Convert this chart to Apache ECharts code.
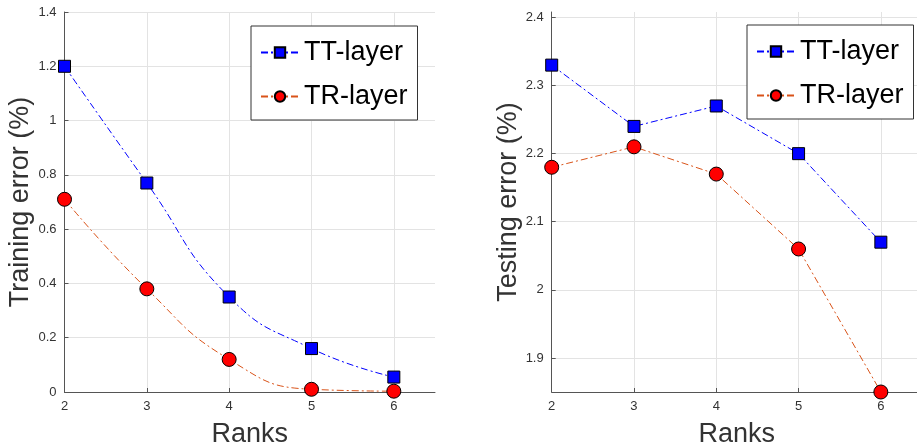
<!DOCTYPE html>
<html>
<head>
<meta charset="utf-8">
<script src="https://cdn.jsdelivr.net/npm/echarts@6/dist/echarts.min.js"></script>
<style>
html, body { margin: 0; padding: 0; background: #fff; }
#chart { width: 917px; height: 444px; }
</style>
</head>
<body>
<div id="chart"></div>
<script>
// data
var ranks = [2, 3, 4, 5, 6];
var trainTT = [1.2, 0.77, 0.35, 0.16, 0.055];
var trainTR = [0.71, 0.38, 0.12, 0.01, 0.003];
var testTT = [2.33, 2.24, 2.27, 2.20, 2.07];
var testTR = [2.18, 2.21, 2.17, 2.06, 1.85];
var seriesNames = ['TT-layer', 'TR-layer'];

var FONT = 'Liberation Sans, Arial, Helvetica, sans-serif';
var dashDot = [7, 3, 2, 3];

function pairs(xs, ys) {
    return xs.map(function (x, i) { return [x, ys[i]]; });
}

function xAxisOpt(gridIndex) {
    return {
        type: 'value', gridIndex: gridIndex,
        min: 2, max: 6.5, interval: 1,
        name: 'Ranks', nameLocation: 'middle', nameGap: 29,
        nameTextStyle: { fontSize: 27, color: '#333', fontFamily: FONT },
        axisLine: { lineStyle: { color: '#555', width: 1 } },
        axisTick: { show: true, inside: true, length: 4, lineStyle: { color: '#555' } },
        axisLabel: { fontSize: 13, color: '#333', fontFamily: FONT, margin: 8, showMaxLabel: false },
        splitLine: { show: true, showMaxLine: false, lineStyle: { color: '#e3e3e3', width: 1 } }
    };
}

function yAxisOpt(gridIndex, name, extra) {
    var o = {
        type: 'value', gridIndex: gridIndex,
        name: name, nameLocation: 'middle', nameGap: 30, nameRotate: 90,
        nameTextStyle: { fontSize: 27, color: '#333', fontFamily: FONT },
        axisLine: { show: true, lineStyle: { color: '#555', width: 1 } },
        axisTick: { show: true, inside: true, length: 4, lineStyle: { color: '#555' } },
        axisLabel: { fontSize: 13, color: '#333', fontFamily: FONT, margin: 8 },
        splitLine: { show: true, lineStyle: { color: '#e3e3e3', width: 1 } }
    };
    for (var k in extra) o[k] = extra[k];
    return o;
}

function lineSeries(name, idx, data, smooth) {
    var isTT = name === 'TT-layer';
    return {
        name: name, type: 'line',
        xAxisIndex: idx, yAxisIndex: idx,
        data: data, smooth: smooth, clip: false,
        symbol: isTT ? 'rect' : 'circle',
        symbolSize: isTT ? 12 : 14,
        lineStyle: { color: isTT ? '#0000ff' : '#d95319', width: 1, type: dashDot },
        itemStyle: { color: isTT ? '#0000ff' : '#ff0000', borderColor: '#000', borderWidth: 1 },
        emphasis: { disabled: true }
    };
}

function legendOpt(left, top) {
    return {
        data: seriesNames, orient: 'vertical',
        left: left, top: top,
        padding: [13, 10, 10, 9], itemGap: 17,
        itemWidth: 38, itemHeight: 13,
        backgroundColor: '#fff', borderColor: '#333', borderWidth: 1,
        textStyle: { fontSize: 27, lineHeight: 26, color: '#000', fontFamily: FONT },
        selectedMode: false
    };
}

var chart = echarts.init(document.getElementById('chart'));
chart.setOption({
    animation: false,
    grid: [
        { left: 64.5, right: 482, top: 12, bottom: 52, outerBoundsMode: 'none' },
        { left: 551.7, right: -5, top: 12, bottom: 52, outerBoundsMode: 'none' }
    ],
    xAxis: [xAxisOpt(0), xAxisOpt(1)],
    yAxis: [
        yAxisOpt(0, 'Training error (%)', { min: 0, max: 1.4, interval: 0.2 }),
        yAxisOpt(1, 'Testing error (%)', {
            min: 1.85, max: 2.408, splitNumber: 5,
            axisLabel: { fontSize: 13, color: '#333', fontFamily: FONT, margin: 8, showMinLabel: false, showMaxLabel: false },
            splitLine: { show: true, showMaxLine: false, lineStyle: { color: '#e3e3e3', width: 1 } }
        })
    ],
    legend: [legendOpt(251, 26), legendOpt(747, 25)],
    series: [
        lineSeries('TT-layer', 0, pairs(ranks, trainTT), 0.5),
        lineSeries('TR-layer', 0, pairs(ranks, trainTR), 0.5),
        lineSeries('TT-layer', 1, pairs(ranks, testTT), false),
        lineSeries('TR-layer', 1, pairs(ranks, testTR), false)
    ]
});
</script>
</body>
</html>
